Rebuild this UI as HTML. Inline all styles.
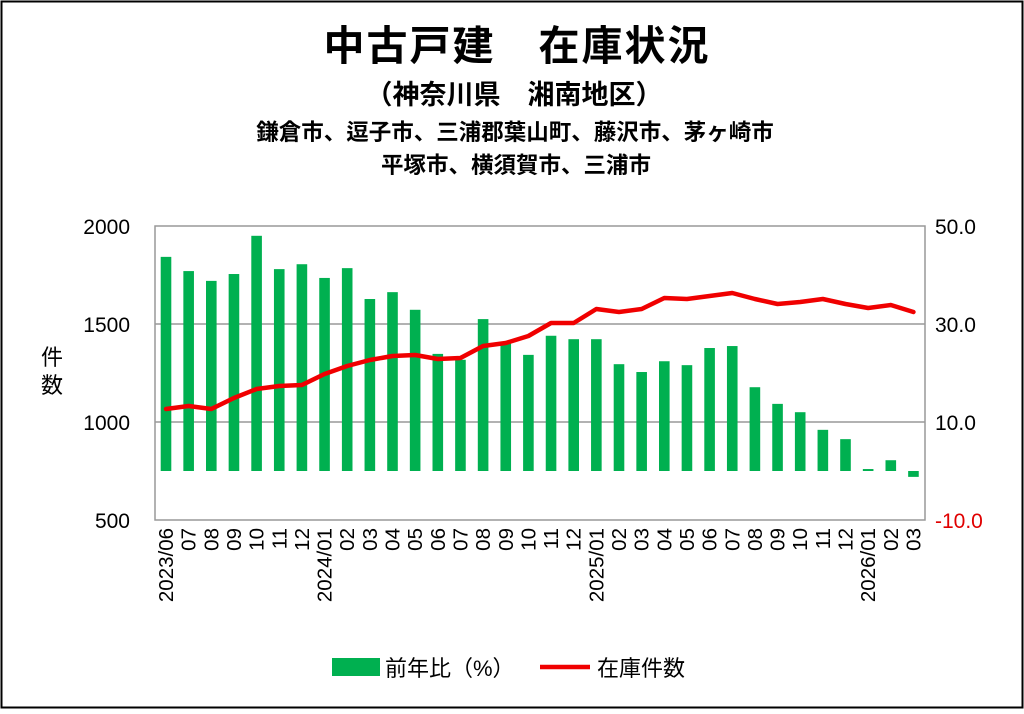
<!DOCTYPE html><html><head><meta charset="utf-8"><style>
body{margin:0;background:#fff}
svg text{font-family:"Liberation Sans","Noto Sans CJK JP",sans-serif}
</style></head><body>
<svg id="s" width="1024" height="709" xmlns="http://www.w3.org/2000/svg">
<rect x="1.5" y="1.5" width="1021" height="706" fill="#fff" stroke="#000" stroke-width="2"/>
<text x="517" y="60" font-size="41" font-weight="bold" text-anchor="middle" letter-spacing="2">中古戸建　在庫状況</text>
<text x="514" y="104" font-size="27" font-weight="bold" text-anchor="middle">（神奈川県　湘南地区）</text>
<text x="515" y="140" font-size="22.5" font-weight="bold" text-anchor="middle">鎌倉市、逗子市、三浦郡葉山町、藤沢市、茅ヶ崎市</text>
<text x="516" y="173" font-size="22.5" font-weight="bold" text-anchor="middle">平塚市、横須賀市、三浦市</text>
<rect x="155" y="226" width="770" height="294" fill="none" stroke="#999" stroke-width="1.5"/>
<line x1="155" y1="324" x2="925" y2="324" stroke="#999" stroke-width="1.5"/>
<line x1="155" y1="422" x2="925" y2="422" stroke="#999" stroke-width="1.5"/>
<g font-size="21" text-anchor="end">
<text x="130" y="234">2000</text><text x="130" y="332">1500</text><text x="130" y="430">1000</text><text x="130" y="528">500</text></g>
<g font-size="21" text-anchor="start">
<text x="935" y="234">50.0</text><text x="935" y="332">30.0</text><text x="935" y="430">10.0</text><text x="935" y="528" fill="#e00000">-10.0</text></g>
<text x="52" y="365" font-size="22" text-anchor="middle">件</text>
<text x="52" y="393" font-size="22" text-anchor="middle">数</text>
<g id="bars" fill="#00b050"></g>
<polyline id="ln" fill="none" stroke="#f00000" stroke-width="4.5" stroke-linejoin="round" stroke-linecap="round"/>
<g id="xl" font-size="20.5"></g>
<rect x="332" y="658" width="48" height="18" fill="#00b050"/>
<text x="385" y="676" font-size="22">前年比（%）</text>
<line x1="540" y1="667" x2="590" y2="667" stroke="#f00000" stroke-width="4.5"/>
<text x="597" y="676" font-size="22">在庫件数</text>
</svg>
<script>
(function(){
var b=[43.7,40.8,38.8,40.2,48,41.2,42.2,39.4,41.4,35.1,36.5,32.9,23.9,22.7,31,26.1,23.7,27.6,26.9,26.9,21.8,20.2,22.4,21.6,25.1,25.5,17.1,13.7,12,8.4,6.5,0.4,2.2,-1.2];
var l=[409,406,409,398,389,386,385,374,366,360,356,355,359,358,346,343,336,323,323,309,312,309,298,299,296,293,299,304,302,299,304,308,305,312];
var lab=["2023/06","07","08","09","10","11","12","2024/01","02","03","04","05","06","07","08","09","10","11","12","2025/01","02","03","04","05","06","07","08","09","10","11","12","2026/01","02","03"];
var ns="http://www.w3.org/2000/svg",g=document.getElementById("bars"),xl=document.getElementById("xl"),pts=[];
for(var i=0;i<34;i++){var cx=166+i*22.65;var v=b[i];var ty=471-v*4.9;
var r=document.createElementNS(ns,"rect");r.setAttribute("x",cx-5.3);r.setAttribute("width",10.6);
r.setAttribute("y",Math.min(ty,471));r.setAttribute("height",Math.abs(471-ty));g.appendChild(r);
pts.push(cx+","+l[i]);
var t=document.createElementNS(ns,"text");t.setAttribute("transform","translate("+(cx+7)+",528) rotate(-90)");t.setAttribute("text-anchor","end");t.textContent=lab[i];xl.appendChild(t);}
document.getElementById("ln").setAttribute("points",pts.join(" "));
})();
</script>
</body></html>
